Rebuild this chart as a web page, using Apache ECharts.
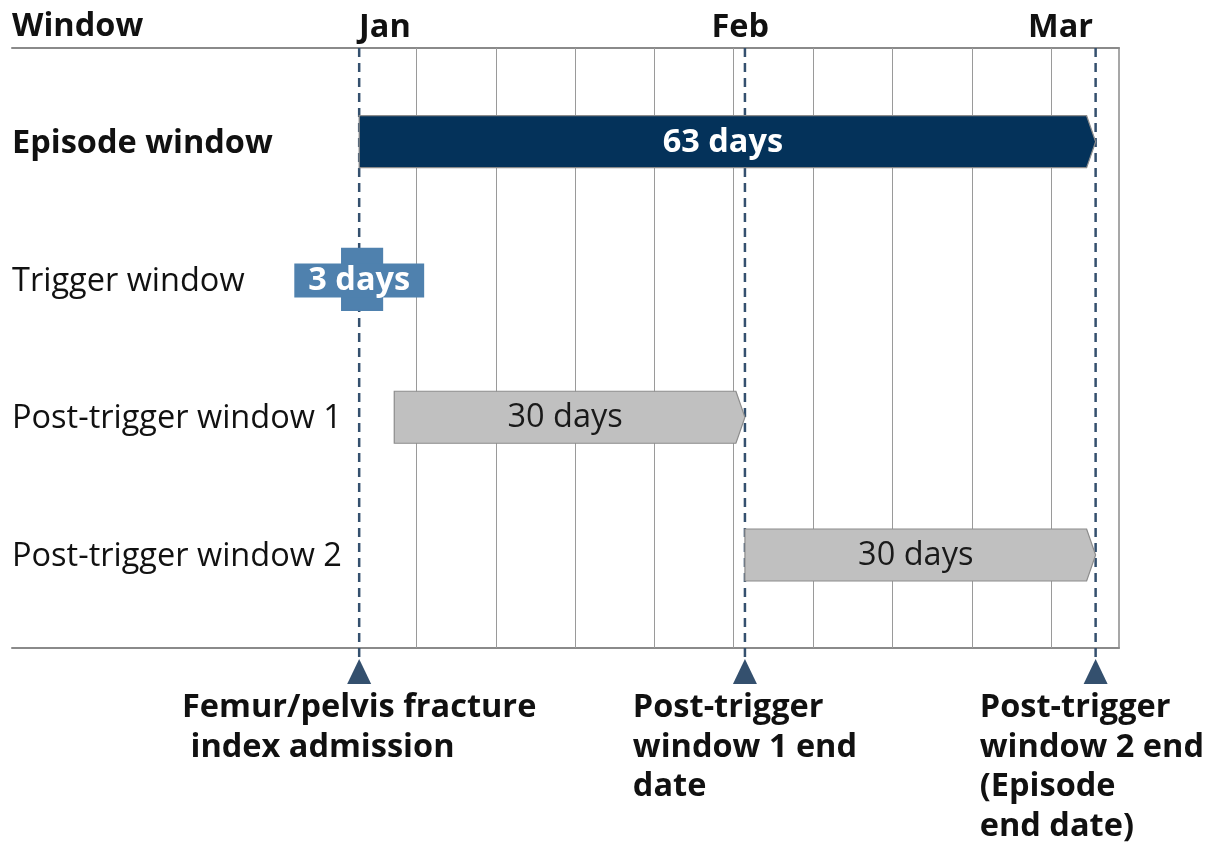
<!DOCTYPE html>
<html>
<head>
<meta charset="utf-8">
<title>Episode windows</title>
<script src="https://cdn.jsdelivr.net/npm/echarts@6/dist/echarts.min.js"></script>
<style>
  html, body { margin: 0; padding: 0; background: #fff; }
  #main { width: 1213px; height: 842px; }
</style>
</head>
<body>
<div id="main"></div>
<script>
// rows of the timeline (top to bottom)
var rowNames = ['Episode window', 'Trigger window', 'Post-trigger window 1', 'Post-trigger window 2'];
// start / end of each window, in days from the index admission
var barStart = [0, -1.5, 3, 33];
var barEnd = [63, 2, 33, 63];
var barLabels = ['63 days', '3 days', '30 days', '30 days'];

// month labels on top
var monthNames = ['Jan', 'Feb', 'Mar'];
var monthLabelDays = [2.2, 32.6, 60];

// thin vertical grid lines
var gridLineDays = [4.9, 11.7, 18.5, 25.2, 32.0, 38.8, 45.6, 52.4, 59.2];

// milestone markers under the axis
var milestoneDays = [0, 33, 63];
var milestoneLabels = [
	'Femur/pelvis fracture\n index admission',
	'Post-trigger\nwindow 1 end\ndate',
	'Post-trigger\nwindow 2 end\n(Episode\nend date)'
];

var FONT = '"Open Sans", "Noto Sans", sans-serif';
var FS = 32.5;
var barFill = ['#04325a', '#4f81ae', '#c0c0c0', '#c0c0c0'];
var barStroke = ['#8c8c8c', '#4f81ae', '#8c8c8c', '#8c8c8c'];
var barText = ['#ffffff', '#ffffff', '#1a1a1a', '#1a1a1a'];
var markColor = '#34506e';

var measureCtx = document.createElement('canvas').getContext('2d');
measureCtx.font = 'bold ' + FS + 'px ' + FONT;
function blockWidth(txt) {
	var w = 0;
	txt.split('\n').forEach(function (line) {
		w = Math.max(w, measureCtx.measureText(line).width);
	});
	return w;
}

function renderGridLine(params, api) {
	var cs = params.coordSys;
	var x = Math.round(api.coord([api.value(0), 0])[0]) + 0.5;
	return {
		type: 'line',
		shape: { x1: x, y1: cs.y, x2: x, y2: cs.y + cs.height },
		style: { stroke: '#9a9a9a', lineWidth: 1 }
	};
}

function renderMilestone(params, api) {
	var cs = params.coordSys;
	var x = api.coord([api.value(0), 0])[0];
	var bottom = cs.y + cs.height;
	var txt = milestoneLabels[params.dataIndex];
	var w = blockWidth(txt);
	var tx = Math.min(x - w / 2, 1204 - w);
	return {
		type: 'group',
		children: [{
			type: 'line',
			shape: { x1: x, y1: cs.y, x2: x, y2: bottom + 12 },
			style: { stroke: markColor, lineWidth: 2.5, lineDash: [9, 6] }
		}, {
			type: 'polygon',
			shape: { points: [[x, bottom + 11], [x + 12, bottom + 36], [x - 12, bottom + 36]] },
			style: { fill: markColor }
		}, {
			type: 'text',
			x: tx,
			y: bottom + 40,
			style: {
				text: txt,
				font: 'bold ' + FS + 'px ' + FONT,
				fill: '#111111',
				align: 'left',
				verticalAlign: 'top',
				lineHeight: 39.5
			}
		}]
	};
}

function renderBar(params, api) {
	var i = params.dataIndex;
	var row = api.value(2);
	var p0 = api.coord([api.value(0), row]);
	var p1 = api.coord([api.value(1), row]);
	var h = i === 1 ? 62 : 52;
	var tip = i === 1 ? 0 : 9;
	var x0 = p0[0], x1 = p1[0], yc = p0[1];
	var pts = [[x0, yc - h / 2], [x1 - tip, yc - h / 2], [x1, yc], [x1 - tip, yc + h / 2], [x0, yc + h / 2]];
	var textStyle = {
		text: barLabels[i],
		font: (i === 2 || i === 3 ? 'normal ' : 'bold ') + FS + 'px ' + FONT,
		fill: barText[i],
		align: 'center',
		verticalAlign: 'middle'
	};
	if (i === 1) {
		textStyle.backgroundColor = barFill[i];
		textStyle.padding = [0, 14];
		textStyle.lineHeight = 34;
	}
	return {
		type: 'group',
		children: [{
			type: 'polygon',
			shape: { points: pts },
			style: { fill: barFill[i], stroke: barStroke[i], lineWidth: 1.2 }
		}, {
			type: 'text',
			x: i === 1 ? p0[0] + (p1[0] - p0[0]) * 0.43 : (x0 + x1 - tip) / 2,
			y: yc + 1,
			style: textStyle
		}]
	};
}

var xMin = -29.7, xMax = 65;
var yMin = -0.68, yMax = 3.675;

var option = {
	animation: false,
	title: {
		text: 'Window',
		left: 12,
		top: 10,
		padding: 0,
		textStyle: { fontFamily: FONT, fontWeight: 'bold', fontSize: FS, color: '#111111' }
	},
	grid: { left: 12, right: 94, top: 48, bottom: 194 },
	xAxis: [{
		type: 'value',
		position: 'bottom',
		min: xMin,
		max: xMax,
		axisLine: { show: true, onZero: false, lineStyle: { color: '#8a8a8a', width: 2 } },
		axisTick: { show: false },
		axisLabel: { show: false },
		splitLine: { show: false }
	}, {
		type: 'value',
		position: 'top',
		min: xMin,
		max: xMax,
		axisLine: { show: true, onZero: false, lineStyle: { color: '#8a8a8a', width: 2 } },
		axisTick: { show: false },
		splitLine: { show: false },
		axisLabel: {
			customValues: monthLabelDays,
			margin: 4,
			fontFamily: FONT,
			fontWeight: 'bold',
			fontSize: FS,
			color: '#111111',
			formatter: function (v) {
				var k = monthLabelDays.indexOf(v);
				return k >= 0 ? monthNames[k] : '';
			}
		}
	}],
	yAxis: [{
		type: 'value',
		position: 'left',
		inverse: true,
		min: yMin,
		max: yMax,
		axisLine: { show: false, onZero: false },
		axisTick: { show: false },
		splitLine: { show: false },
		axisLabel: {
			inside: true,
			margin: 0,
			customValues: [0, 1, 2, 3],
			fontFamily: FONT,
			fontSize: FS,
			color: '#111111',
			padding: [4, 0, 0, 0],
			formatter: function (v) {
				var name = rowNames[Math.round(v)] || '';
				return Math.round(v) === 0 ? '{b|' + name + '}' : name;
			},
			rich: {
				b: { fontFamily: FONT, fontWeight: 'bold', fontSize: FS, color: '#111111' }
			}
		}
	}, {
		type: 'value',
		position: 'right',
		inverse: true,
		min: yMin,
		max: yMax,
		axisLine: { show: true, onZero: false, lineStyle: { color: '#8a8a8a', width: 1.5 } },
		axisTick: { show: false },
		axisLabel: { show: false },
		splitLine: { show: false }
	}],
	series: [{
		name: 'grid lines',
		type: 'custom',
		z: 1,
		silent: true,
		renderItem: renderGridLine,
		encode: { x: 0, y: 1 },
		data: gridLineDays.map(function (d) { return [d, 0]; })
	}, {
		name: 'milestones',
		type: 'custom',
		z: 2,
		silent: true,
		clip: false,
		renderItem: renderMilestone,
		encode: { x: 0, y: 1 },
		data: milestoneDays.map(function (d) { return [d, 0]; })
	}, {
		name: 'windows',
		type: 'custom',
		z: 3,
		renderItem: renderBar,
		encode: { x: [0, 1], y: 2 },
		data: barStart.map(function (s, i) { return [s, barEnd[i], i]; })
	}]
};

var myChart = echarts.init(document.getElementById('main'));
myChart.setOption(option);
</script>
</body>
</html>
